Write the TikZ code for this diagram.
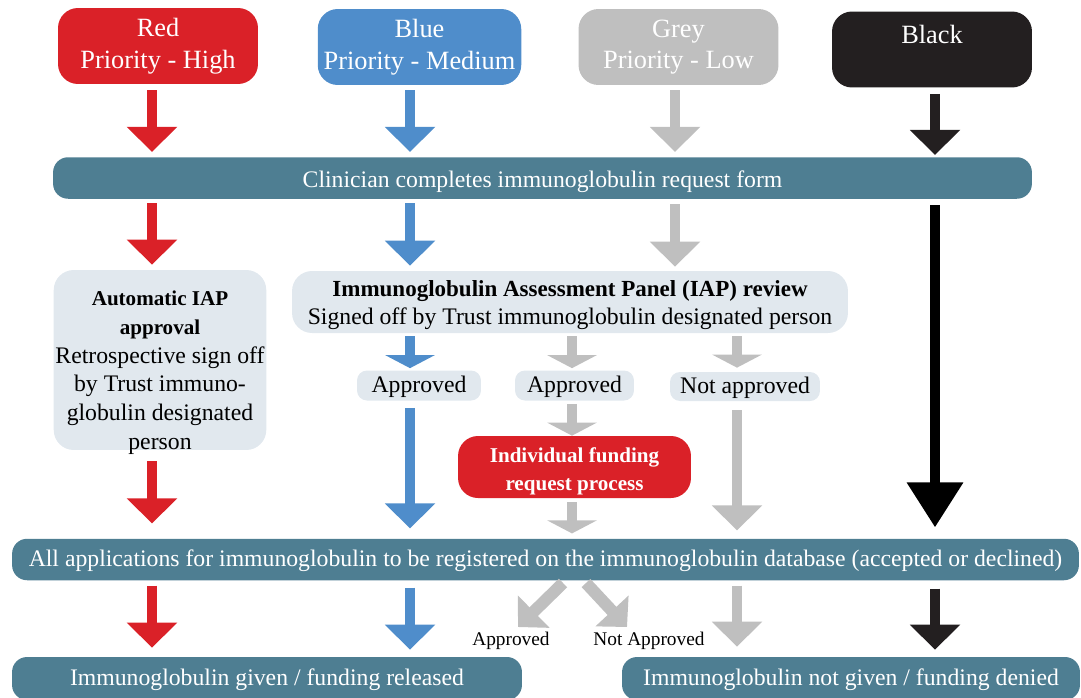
\documentclass[tikz,border=0pt]{standalone}
\usepackage{fontspec}
\setmainfont{Liberation Serif}
\usetikzlibrary{positioning}
\usetikzlibrary{calc}
\usetikzlibrary{arrows.meta}

\definecolor{prired}{RGB}{218,33,40}
\definecolor{priblue}{RGB}{79,141,203}
\definecolor{prigrey}{RGB}{191,191,191}
\definecolor{priblack}{RGB}{35,31,32}
\definecolor{barteal}{RGB}{78,126,146}
\definecolor{panel}{RGB}{225,232,238}

\newcommand{\hdline}[1]{{\bfseries\fontsize{12}{16.4}\selectfont #1}}
\newcommand{\stacked}[1]{\begin{tabular}[b]{@{}c@{}}#1\end{tabular}}

\begin{document}
\begin{tikzpicture}[x=0.02cm, y=-0.02cm,
			priority/.style={rectangle, rounded corners=0.4cm, minimum width=4cm, minimum height=1.52cm, align=center, text=white, font=\fontsize{15}{18}\selectfont},
			bar/.style={rectangle, rounded corners=0.3cm, fill=barteal, text=white, minimum height=0.83cm, text height=0.29cm, text depth=0pt, font=\fontsize{13.5}{16}\selectfont},
			panelbox/.style={rectangle, rounded corners=0.4cm, fill=panel, inner ysep=0pt, text depth=0pt, font=\fontsize{13.5}{16.1}\selectfont},
			verdict/.style={rectangle, rounded corners=0.2cm, fill=panel, minimum height=0.6cm, text height=0.29cm, text depth=0pt, font=\fontsize{13.5}{16}\selectfont},
			tag/.style={inner sep=0pt, font=\fontsize{11}{13}\selectfont},
			fat/.style={line width=0.19cm, arrows=-{Triangle[width=0.98cm,length=0.5cm]}},
			stub/.style={line width=0.19cm, arrows=-{Triangle[width=0.98cm,length=0.26cm]}},
			long/.style={line width=0.2cm, arrows=-{Triangle[width=1.08cm,length=0.9cm]}},
			diag/.style={draw=prigrey, line width=0.24cm, arrows=-{Triangle[width=0.88cm,length=0.44cm]}},
			]
			\useasboundingbox (0,0) rectangle (1081,697);
			
			\node[priority, fill=prired]   (red)   at (158,46)   {Red\\Priority - High};
			\node[priority, fill=priblue]  (blue)  at (419.5,47) {Blue\\Priority - Medium};
			\node[priority, fill=prigrey]  (grey)  at (678.5,47) {Grey\\Priority - Low};
			\node[priority, fill=priblack, text height=8pt, text depth=15pt] (black) at (932,49.5) {Black};
			
			\node[bar, minimum width=19.58cm, text height=0.37cm] (clin) at (542.5,178) {Clinician completes immunoglobulin request form};
			
			\node[panelbox, minimum width=4.2cm, minimum height=3.6cm, inner xsep=1pt, text height=102pt, font=\fontsize{13.5}{16.4}\selectfont] (auto) at (160,360)
			{\stacked{\hdline{Automatic IAP}\\\hdline{approval}\\Retrospective sign off\\by Trust immuno-\\globulin designated\\person}};
			\node[panelbox, minimum width=11.12cm, minimum height=1.24cm, text height=26pt] (iap) at (570,302)
			{\stacked{{\bfseries\fontsize{13.1}{16}\selectfont Immunoglobulin Assessment Panel (IAP) review}\\Signed off by Trust immunoglobulin designated person}};
			
			\node[verdict, minimum width=2.48cm] (ok_b) at (419,385.5)   {Approved};
			\node[verdict, minimum width=2.38cm] (ok_g) at (574.5,385.5) {Approved};
			\node[verdict, minimum width=3cm, minimum height=0.58cm] (no_g) at (745,386.5) {Not approved};
			
			\node[priority, fill=prired, minimum width=4.66cm, minimum height=1.24cm, inner ysep=0pt, text height=0.92cm, text depth=0pt, font=\bfseries\fontsize{12}{15.5}\selectfont] (ifr) at (574.5,467) {\stacked{Individual funding\\request process}};
			
			\node[bar, minimum width=21.34cm] (reg) at (545.5,559.5) {All applications for immunoglobulin to be registered on the immunoglobulin database (accepted or declined)};
			
			\node[bar, minimum width=10.2cm, minimum height=0.86cm, text height=0.26cm] (given)  at (267,678.5) {Immunoglobulin given / funding released};
			\node[bar, minimum width=9.16cm, minimum height=0.86cm, text height=0.26cm]  (denied) at (851,678.5) {Immunoglobulin not given / funding denied};
			
			\node[tag] (appr)    at (511,641) {Approved};
			\node[tag] (notappr) at (649,641) {Not Approved};
			
			\coordinate (colR)  at (152,0);
			\coordinate (colB)  at (410,0);
			\coordinate (colG)  at (675,0);
			\coordinate (colK)  at (935,0);
			\coordinate (colG1) at (572,0);
			\coordinate (colG2) at (737,0);
			
			\draw [fat, prired,   shorten <=0.12cm, shorten >=0.1cm]  (red.south -| colR)   -- (clin.north -| colR);
			\draw [fat, priblue,  shorten <=0.1cm,  shorten >=0.1cm]  (blue.south -| colB)  -- (clin.north -| colB);
			\draw [fat, prigrey,  shorten <=0.1cm,  shorten >=0.1cm]  (grey.south -| colG)  -- (clin.north -| colG);
			\draw [fat, priblack, shorten <=0.12cm, shorten >=0.04cm] (black.south -| colK) -- (clin.north -| colK);
			
			\draw [fat, prired,  shorten <=0.08cm, shorten >=0.1cm]  (clin.south -| colR) -- (auto.north -| colR);
			\draw [fat, priblue, shorten <=0.08cm, shorten >=0.1cm]  (clin.south -| colB) -- (iap.north -| colB);
			\draw [fat, prigrey, shorten <=0.1cm,  shorten >=0.08cm] (clin.south -| colG) -- (iap.north -| colG);
			\draw [long, black,  shorten <=0.12cm, shorten >=0.22cm] (clin.south -| colK) -- (reg.north -| colK);
			
			\draw [stub, priblue, shorten <=0.06cm, shorten >=0.04cm] (iap.south -| colB)  -- (ok_b.north -| colB);
			\draw [stub, prigrey, shorten <=0.06cm, shorten >=0.04cm] (iap.south -| colG1) -- (ok_g.north -| colG1);
			\draw [stub, prigrey, shorten <=0.06cm, shorten >=0.08cm] (iap.south -| colG2) -- (no_g.north -| colG2);
			
			\draw [fat, priblue,  shorten <=0.14cm, shorten >=0.2cm]  (ok_b.south -| colB)  -- (reg.north -| colB);
			\draw [stub, prigrey, shorten <=0.06cm]                   (ok_g.south -| colG1) -- (ifr.north -| colG1);
			\draw [fat, prigrey,  shorten <=0.18cm, shorten >=0.16cm] (no_g.south -| colG2)  -- (reg.north -| colG2);
			\draw [stub, prigrey, shorten <=0.08cm, shorten >=0.1cm]  (ifr.south -| colG1)  -- (reg.north -| colG1);
			\draw [fat, prired,   shorten <=0.22cm, shorten >=0.3cm]  (auto.south -| colR)  -- (reg.north -| colR);
			
			\draw [fat, prired,   shorten <=0.1cm,  shorten >=0.18cm] (reg.south -| colR)  -- (given.north -| colR);
			\draw [fat, priblue,  shorten <=0.14cm, shorten >=0.14cm] (reg.south -| colB)  -- (given.north -| colB);
			\draw [fat, prigrey,  shorten <=0.1cm,  shorten >=0.2cm]  (reg.south -| colG2) -- (denied.north -| colG2);
			\draw [fat, priblack, shorten <=0.16cm, shorten >=0.14cm] (reg.south -| colK)  -- (denied.north -| colK);
			\draw [diag] ([shift={(52,-58)}]appr.center)     -- ([shift={(7,-14)}]appr.center);
			\draw [diag] ([shift={(-63,-58)}]notappr.center) -- ([shift={(-22,-14)}]notappr.center);
			
\end{tikzpicture}
\end{document}
